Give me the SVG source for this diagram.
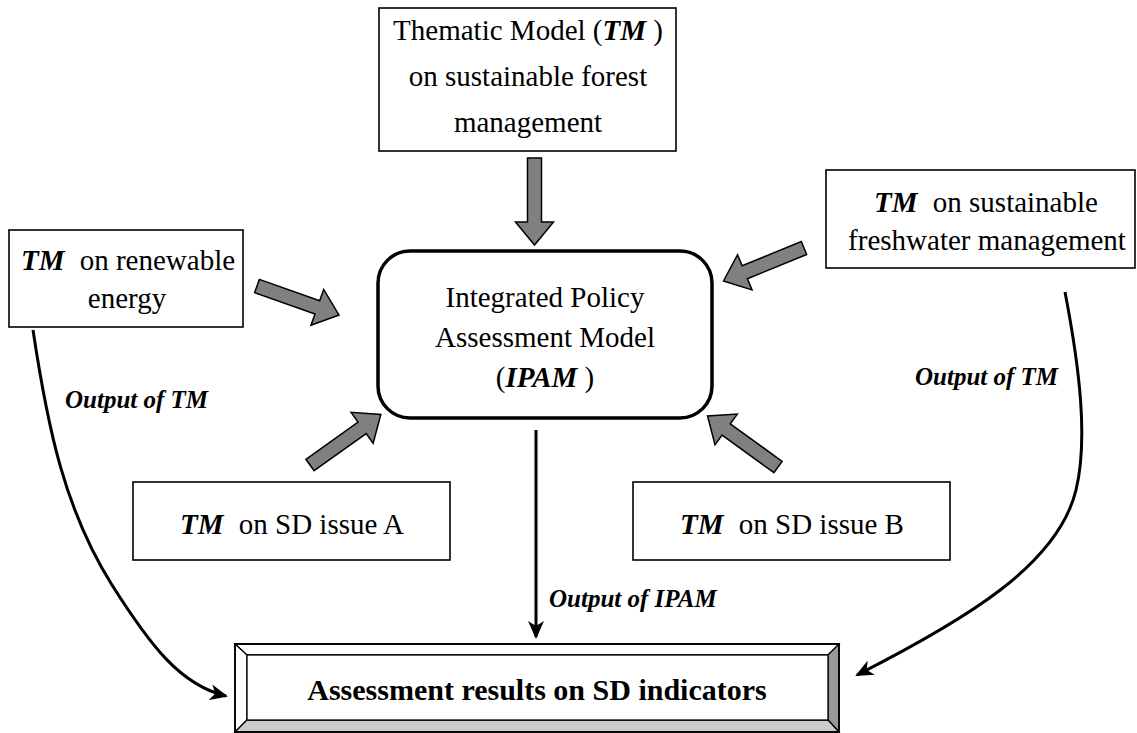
<svg xmlns="http://www.w3.org/2000/svg" width="1137" height="733" viewBox="0 0 1137 733">
<defs>
<style>
.box{fill:#fff;stroke:#000;stroke-width:1.6}
.main{fill:#fff;stroke:#000;stroke-width:3.5}
.t{font-family:"Liberation Serif","Times New Roman",serif;font-size:29px;fill:#000;text-anchor:middle}
.bi{font-weight:bold;font-style:italic}
.lbl{font-family:"Liberation Serif","Times New Roman",serif;font-size:25px;font-weight:bold;font-style:italic;fill:#000}
.res{font-family:"Liberation Serif","Times New Roman",serif;font-size:30px;font-weight:bold;fill:#000;text-anchor:middle}
.blk{fill:#808080;stroke:#000;stroke-width:1.5;stroke-linejoin:miter}
.con{fill:none;stroke:#000;stroke-width:3}
.bev{stroke:#000;stroke-width:1.3}
</style>
<polygon id="barrow" points="0,-7 64,-7 64,-19 87,0 64,19 64,7 0,7"/>
<marker id="ah" markerUnits="userSpaceOnUse" viewBox="0 0 18 16" refX="16" refY="8" markerWidth="18" markerHeight="16" orient="auto">
<path d="M0,0 L18,8 L0,16 L5,8 z" fill="#000"/>
</marker>
</defs>
<rect width="1137" height="733" fill="#fff"/>

<g id="node-forest">
<rect class="box" x="379" y="8" width="297" height="143"/>
<text class="t" x="528" y="40">Thematic Model (<tspan class="bi">TM</tspan> )</text>
<text class="t" x="528" y="86">on sustainable forest</text>
<text class="t" x="528" y="132">management</text>
</g>

<g id="node-renewable">
<rect class="box" x="9" y="230" width="234" height="97"/>
<text class="t" x="128" y="270"><tspan class="bi">TM</tspan><tspan dx="8"> on renewable</tspan></text>
<text class="t" x="127" y="308">energy</text>
</g>

<g id="node-freshwater">
<rect class="box" x="826" y="170" width="309" height="98"/>
<text class="t" x="986" y="212"><tspan class="bi">TM</tspan><tspan dx="8"> on sustainable</tspan></text>
<text class="t" x="987" y="250">freshwater management</text>
</g>

<g id="node-ipam">
<rect class="main" x="378" y="251" width="334" height="167" rx="32" ry="32"/>
<text class="t" x="545" y="307">Integrated Policy</text>
<text class="t" x="545" y="347">Assessment Model</text>
<text class="t" x="545" y="387">(<tspan class="bi">IPAM</tspan> )</text>
</g>

<g id="node-issueA">
<rect class="box" x="133" y="482" width="317" height="78"/>
<text class="t" x="292" y="534"><tspan class="bi">TM</tspan><tspan dx="8"> on SD issue A</tspan></text>
</g>

<g id="node-issueB">
<rect class="box" x="633" y="482" width="317" height="78"/>
<text class="t" x="792" y="534"><tspan class="bi">TM</tspan><tspan dx="8"> on SD issue B</tspan></text>
</g>

<g id="node-results">
<rect x="235" y="644" width="604" height="88" fill="#fff" stroke="none"/>
<polygon points="235,644 839,644 828,655 247,655" fill="#fff" class="bev"/>
<polygon points="235,644 247,655 247,720 235,732" fill="#fff" class="bev"/>
<polygon points="839,644 839,732 828,720 828,655" fill="#999" class="bev"/>
<polygon points="235,732 247,720 828,720 839,732" fill="#cccccc" class="bev"/>
<rect x="235" y="644" width="604" height="88" fill="none" stroke="#000" stroke-width="1.8"/>
<rect x="247" y="655" width="581" height="65" fill="#fff" stroke="#000" stroke-width="1.3"/>
<text class="res" x="537" y="700">Assessment results on SD indicators</text>
</g>

<g id="connectors">
<use href="#barrow" class="blk" transform="translate(534.5,158) rotate(90)"/>
<use href="#barrow" class="blk" transform="translate(257,286) rotate(19.5)"/>
<use href="#barrow" class="blk" transform="translate(804,248) rotate(157.7)"/>
<use href="#barrow" class="blk" transform="translate(310,465) rotate(-35.5)"/>
<use href="#barrow" class="blk" transform="translate(778,467) rotate(-144.1)"/>
<path class="con" d="M536,430 L536,637" marker-end="url(#ah)"/>
<path class="con" d="M33,330 C48,430 65,510 112,585 C150,645 180,685 226,696" marker-end="url(#ah)"/>
<path class="con" d="M1065,292 C1080,370 1088,440 1076,490 C1058,565 965,620 857,675" marker-end="url(#ah)"/>
<text class="lbl" x="65" y="408">Output of TM</text>
<text class="lbl" x="915" y="385">Output of TM</text>
<text class="lbl" x="549" y="607">Output of IPAM</text>
</g>
</svg>
